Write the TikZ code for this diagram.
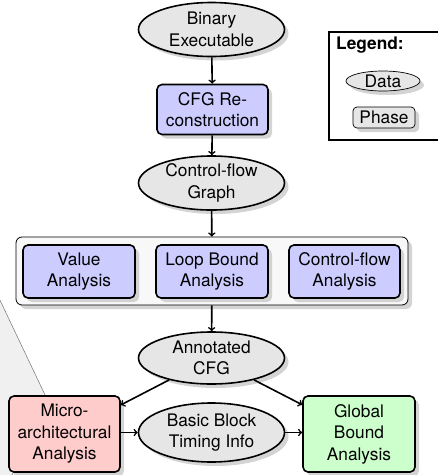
\documentclass[tikz,border=0pt]{standalone}
\usepackage{fontspec}
\setmainfont{TeX Gyre Heros}
\usetikzlibrary{shapes.geometric,shadows}
\definecolor{datafill}{HTML}{E6E6E6}
\definecolor{phasefill}{HTML}{CCCCFF}
\definecolor{microfill}{HTML}{FFCCCC}
\definecolor{globalfill}{HTML}{CCFFCC}
\definecolor{groupfill}{HTML}{F8F8F8}
\tikzset{
  txt/.style={font=\fontsize{17.3}{21.5}\selectfont, align=center},
  shade/.style={drop shadow={shadow xshift=4pt, shadow yshift=-4pt, fill=black!20, opacity=0.85}},
  datanode/.style={txt, ellipse, draw, line width=1.6pt, fill=datafill, shade,
    inner sep=0pt, minimum width=146pt, minimum height=54pt},
  phasenode/.style={txt, rectangle, rounded corners=5pt, draw, line width=1.6pt,
    fill=phasefill, shade, inner sep=0pt, minimum width=111pt, minimum height=50pt},
  flow/.style={->, line width=1.6pt},
}
\begin{document}
\begin{tikzpicture}[x=1pt, y=-1pt]
\useasboundingbox (0,0) rectangle (438,475);
\clip (0,0) rectangle (438,475);

% background sheet on the left
\fill[black!6] (-2,296) -- (46,397) -- (14,471) -- (11,477) -- (-2,477) -- cycle;
\draw[black!55, line width=0.5pt] (-2,296) -- (46,397);
\draw[black!55, line width=0.5pt] (14,471) -- (11,477);

% main flow
\node[datanode] (bin) at (211.5,29.5) {Binary\\Executable};
\node[phasenode] (cfg) at (212.5,109.5) {CFG Re-\\construction};
\node[datanode] (cfgraph) at (211.5,183) {Control-flow\\Graph};

% analysis group
\node[rectangle, rounded corners=6pt, draw, line width=0.8pt, fill=groupfill, shade,
  minimum width=392pt, minimum height=68pt, inner sep=0pt] (group) at (212,271) {};
\node[phasenode, minimum width=112pt, minimum height=53pt] (val) at (79,271.5) {Value\\Analysis};
\node[phasenode, minimum width=112pt, minimum height=53pt] (loop) at (212,271.5) {Loop Bound\\Analysis};
\node[phasenode, minimum width=111pt, minimum height=53pt] (cfa) at (344.5,271.5) {Control-flow\\Analysis};

\node[datanode, minimum height=52pt] (annot) at (211.5,358) {Annotated\\CFG};
\node[phasenode, fill=microfill, minimum height=76pt] (micro) at (64.5,434) {Micro-\\architectural\\Analysis};
\node[datanode, minimum height=59pt] (basic) at (211.5,432.5) {Basic Block\\Timing Info};
\node[phasenode, fill=globalfill, minimum width=112pt, minimum height=76pt] (global) at (359,434) {Global\\Bound\\Analysis};

\draw[flow] (bin) -- (cfg);
\draw[flow] (cfg) -- (cfgraph);
\draw[flow] (cfgraph) -- (group);
\draw[flow] (group) -- (annot);
\draw[flow] (annot) -- (micro);
\draw[flow] (annot) -- (global);
\draw[flow] (micro.east |- basic) -- (basic);
\draw[flow] (basic) -- (global.west |- basic);

% legend
\node[rectangle, draw, line width=1.6pt, fill=white, minimum width=131pt, minimum height=108pt,
  inner sep=0pt] (legend) at (394.5,86) {};
\node[txt, font=\fontsize{17.3}{21.5}\selectfont\bfseries, anchor=west, inner sep=0pt] (legtitle) at (336,45) {Legend:};
\node[txt, ellipse, draw, line width=0.7pt, fill=datafill, shade, inner sep=0pt,
  minimum width=74pt, minimum height=20pt] (legdata) at (383,81) {Data};
\node[txt, rectangle, rounded corners=4pt, draw, line width=0.7pt, fill=datafill, shade,
  inner sep=0pt, minimum width=62pt, minimum height=21pt] (legphase) at (384,117.5) {Phase};
\end{tikzpicture}
\end{document}
